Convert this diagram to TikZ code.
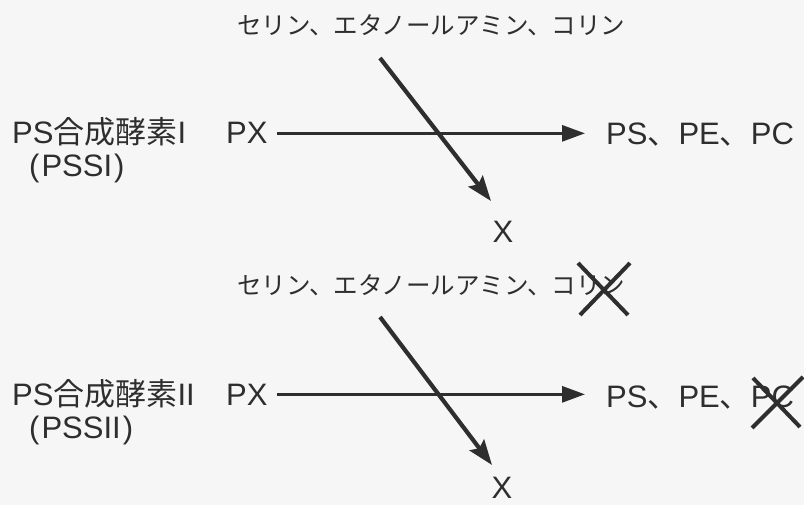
\documentclass[tikz,border=0pt]{standalone}
\usepackage{fontspec}
\setmainfont{Liberation Sans}
\newfontfamily\jp{Noto Sans CJK JP}
\usetikzlibrary{arrows.meta}
\definecolor{ink}{HTML}{2E2E2E}
\definecolor{bg}{HTML}{F6F6F6}
\begin{document}
\begin{tikzpicture}[x=1pt,y=-1pt,
  lbl/.style={inner sep=0pt, text=ink, font=\fontsize{31}{35}\selectfont},
  kata/.style={inner sep=0pt, text=ink, font=\jp\fontsize{24.5}{28}\selectfont},
  harrow/.style={draw=ink, line width=3pt, -{Triangle[length=23pt,width=16pt]}},
  darrow/.style={draw=ink, line width=4.2pt, -{Stealth[length=25pt,width=18pt,inset=4pt]}},
  strike/.style={draw=ink, line width=4pt}]
\fill[bg] (0,0) rectangle (804,505);
\useasboundingbox (0,0) rectangle (804,505);
% ---------- row 1 ----------
\node[lbl, anchor=base west] (enz1) at (12,144) {PS{\jp 合成酵素}I};
\node[lbl, anchor=base west] (pssi) at (29,177) {(\kern2pt PSSI\kern2pt)};
\node[lbl, anchor=base west] (px1) at (226,144) {PX};
\node[lbl, anchor=base west] (prod1) at (606,145) {PS{\jp 、}PE{\jp 、}PC};
\node[kata, anchor=base west] (sub1) at (237,35) {セリン、エタノールアミン、コリン};
\node[lbl, anchor=base] (x1) at (503,243) {X};
\coordinate (s1) at (380,58);
\coordinate (e1) at (491,201);
\draw[harrow, shorten <=9pt, shorten >=21pt] (px1.east) -- (px1.east -| prod1.west);
\draw[darrow] (s1) -- (e1);
% ---------- row 2 ----------
\node[lbl, anchor=base west] (enz2) at (12,405) {PS{\jp 合成酵素}II};
\node[lbl, anchor=base west] (pssii) at (29,438) {(\kern2pt PSSII\kern2pt)};
\node[lbl, anchor=base west] (px2) at (226,405) {PX};
\node[lbl, anchor=base west] (prod2) at (606,407) {PS{\jp 、}PE{\jp 、}PC};
\node[kata, anchor=base west] (sub2) at (237,295) {セリン、エタノールアミン、コリン};
\node[lbl, anchor=base] (x2) at (502,498) {X};
\coordinate (s2) at (380,317);
\coordinate (e2) at (492,465);
\draw[harrow, shorten <=9pt, shorten >=21pt] (px2.east) -- (px2.east -| prod2.west);
\draw[darrow] (s2) -- (e2);
% ---------- crossings-out ----------
\draw[strike] (578,263) -- (628,315);
\draw[strike] (630,263) -- (580,315);
\draw[strike] (753,378) -- (800,427);
\draw[strike] (803,377) -- (752,428);
\end{tikzpicture}
\end{document}
